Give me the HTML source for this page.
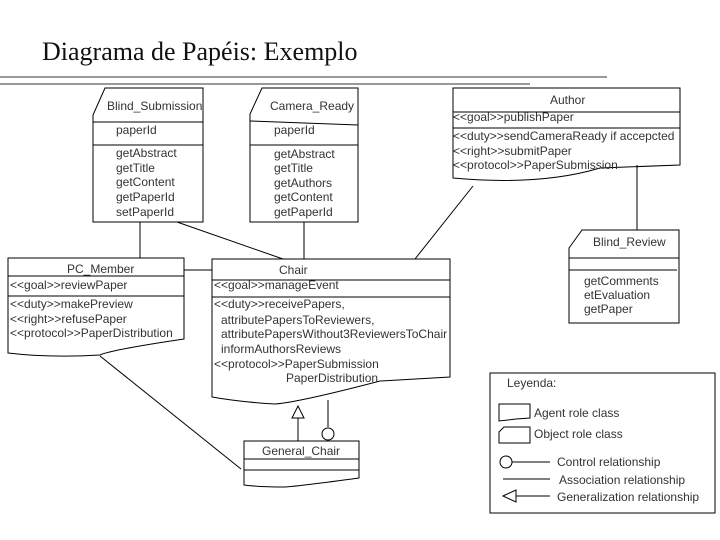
<!DOCTYPE html>
<html><head><meta charset="utf-8"><style>
html,body{margin:0;padding:0;background:#fff;}
svg{display:block;}
text{font-family:"Liberation Sans",sans-serif;font-size:12px;fill:#333;}
</style></head><body>
<svg width="720" height="540" viewBox="0 0 720 540" xmlns="http://www.w3.org/2000/svg">
<text x="42" y="60" style="font-family:'Liberation Serif',serif;font-size:26px;fill:#111">Diagrama de Papéis: Exemplo</text>
<line x1="0" y1="77" x2="607" y2="77" stroke="#333" stroke-width="1"/>
<line x1="0" y1="84" x2="530" y2="84" stroke="#333" stroke-width="1"/>
<g fill="none" stroke="#000" stroke-width="1">
<!-- Blind_Submission -->
<path d="M105,88 H203 V222 H93 V115 Z"/>
<line x1="93" y1="122" x2="203" y2="122"/><line x1="93" y1="145" x2="203" y2="145"/>
<!-- Camera_Ready -->
<path d="M262,88 H358 V222 H250 V114 Z"/>
<path d="M250,121 L358,125"/><line x1="250" y1="145" x2="358" y2="145"/>
<!-- Author -->
<path d="M453,88 H680 V165 L600,168 Q540,186 453,178 Z"/>
<line x1="453" y1="112" x2="680" y2="112"/><line x1="453" y1="128" x2="680" y2="128"/>
<!-- Blind_Review -->
<path d="M582,230 H679 V323 H569 V248 Z"/>
<line x1="569" y1="258" x2="679" y2="258"/><line x1="569" y1="270" x2="677" y2="270"/>
<!-- PC_Member -->
<path d="M8,258 H184 V339 Q110,350 100,355 Q50,358 8,353 Z"/>
<line x1="8" y1="276" x2="184" y2="276"/><line x1="8" y1="296" x2="184" y2="296"/>
<!-- Chair -->
<path d="M212,259 H450 V377 L380,381 Q300,402 275,404 Q240,402 212,397 Z"/>
<line x1="212" y1="280" x2="450" y2="280"/><line x1="212" y1="297" x2="450" y2="297"/>
<!-- General_Chair -->
<path d="M244,441 H359 V478 Q300,486 285,487 Q260,487 244,485 Z"/>
<line x1="244" y1="459" x2="359" y2="459"/><line x1="244" y1="470" x2="359" y2="470"/>
<!-- connectors -->
<line x1="140" y1="222" x2="140" y2="258"/>
<line x1="177" y1="222" x2="283" y2="259"/>
<line x1="304" y1="222" x2="304" y2="259"/>
<line x1="473" y1="186" x2="415" y2="259"/>
<line x1="637" y1="165" x2="637" y2="230"/>
<line x1="184" y1="270" x2="212" y2="270"/>
<line x1="100" y1="356" x2="241" y2="469"/>
<path d="M298,406 L292,418 H304 Z"/><line x1="298" y1="418" x2="298" y2="441"/>
<line x1="328" y1="400" x2="328" y2="427"/><circle cx="328" cy="434" r="6"/>
<!-- legend -->
<rect x="490" y="373" width="225" height="140"/>
<path d="M499,404 H530 V418 L516,419 L499,421 Z"/>
<path d="M504,427 H530 V443 H499 V432 Z"/>
<circle cx="506" cy="462" r="6"/><line x1="512" y1="462" x2="550" y2="462"/>
<line x1="503" y1="479" x2="550" y2="479"/>
<path d="M503,496 L516,490 V502 Z"/><line x1="516" y1="496" x2="550" y2="496"/>
</g>
<text x="107" y="110">Blind_Submission</text>
<text x="116" y="134">paperId</text>
<text x="116" y="157">getAbstract</text>
<text x="116" y="172">getTitle</text>
<text x="116" y="186">getContent</text>
<text x="116" y="201">getPaperId</text>
<text x="116" y="216">setPaperId</text>
<text x="270" y="110">Camera_Ready</text>
<text x="274" y="134">paperId</text>
<text x="274" y="158">getAbstract</text>
<text x="274" y="172">getTitle</text>
<text x="274" y="187">getAuthors</text>
<text x="274" y="201">getContent</text>
<text x="274" y="216">getPaperId</text>
<text x="550" y="104">Author</text>
<text x="453" y="121">&lt;&lt;goal&gt;&gt;publishPaper</text>
<text x="453" y="140">&lt;&lt;duty&gt;&gt;sendCameraReady if accepcted</text>
<text x="453" y="155">&lt;&lt;right&gt;&gt;submitPaper</text>
<text x="453" y="169">&lt;&lt;protocol&gt;&gt;PaperSubmission</text>
<text x="593" y="246">Blind_Review</text>
<text x="584" y="285">getComments</text>
<text x="584" y="299">etEvaluation</text>
<text x="584" y="313">getPaper</text>
<text x="67" y="273">PC_Member</text>
<text x="10" y="289">&lt;&lt;goal&gt;&gt;reviewPaper</text>
<text x="10" y="308">&lt;&lt;duty&gt;&gt;makePreview</text>
<text x="10" y="323">&lt;&lt;right&gt;&gt;refusePaper</text>
<text x="10" y="337">&lt;&lt;protocol&gt;&gt;PaperDistribution</text>
<text x="279" y="274">Chair</text>
<text x="214" y="289">&lt;&lt;goal&gt;&gt;manageEvent</text>
<text x="214" y="308">&lt;&lt;duty&gt;&gt;receivePapers,</text>
<text x="221" y="324">attributePapersToReviewers,</text>
<text x="221" y="338">attributePapersWithout3ReviewersToChair</text>
<text x="221" y="353">informAuthorsReviews</text>
<text x="214" y="368">&lt;&lt;protocol&gt;&gt;PaperSubmission</text>
<text x="286" y="382">PaperDistribution</text>
<text x="262" y="455">General_Chair</text>
<text x="507" y="387">Leyenda:</text>
<text x="534" y="417">Agent role class</text>
<text x="534" y="438">Object role class</text>
<text x="557" y="466">Control relationship</text>
<text x="559" y="484">Association relationship</text>
<text x="557" y="501">Generalization relationship</text>
</svg>
</body></html>
